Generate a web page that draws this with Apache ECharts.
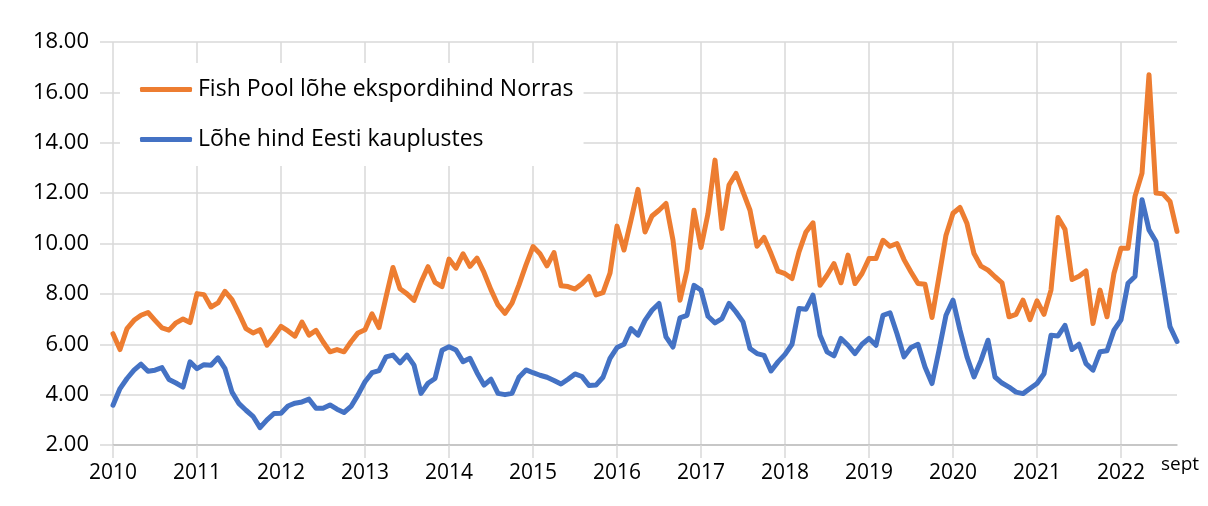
<!DOCTYPE html>
<html>
<head>
<meta charset="utf-8">
<script src="https://cdn.jsdelivr.net/npm/echarts@6/dist/echarts.min.js"></script>
<style>
  html, body { margin: 0; padding: 0; background: #fff; }
  #chart { width: 1208px; height: 506px; }
</style>
</head>
<body>
<div id="chart"></div>
<script>
// aastad x-teljel (iga aasta jaanuar), viimane punkt on 2022 sept
const years = ['2010', '2011', '2012', '2013', '2014', '2015', '2016', '2017', '2018', '2019', '2020', '2021', '2022']
const lastMonth = 9

// Fish Pool lõhe ekspordihind Norras (kuised väärtused)
const fishPool = [
  6.42, 5.79, 6.62, 6.95, 7.15, 7.26, 6.95, 6.65, 6.56, 6.85, 7.0, 6.86,
  8.01, 7.97, 7.48, 7.64, 8.1, 7.77, 7.22, 6.62, 6.45, 6.58, 5.96, 6.32,
  6.71, 6.53, 6.32, 6.88, 6.36, 6.55, 6.1, 5.7, 5.79, 5.7, 6.1, 6.45,
  6.58, 7.21, 6.66, 7.87, 9.05, 8.2, 8.0, 7.74, 8.46, 9.08, 8.46, 8.29,
  9.38, 9.02, 9.59, 9.09, 9.42, 8.85, 8.16, 7.56, 7.23, 7.63, 8.36, 9.15,
  9.88, 9.59, 9.11, 9.64, 8.32, 8.29, 8.19, 8.4, 8.69, 7.96, 8.05, 8.82,
  10.69, 9.74, 10.93, 12.15, 10.46, 11.09, 11.32, 11.59, 10.13, 7.75, 8.94, 11.32,
  9.84, 11.19, 13.31, 10.6, 12.32, 12.78, 12.05, 11.32, 9.89, 10.24, 9.6, 8.9,
  8.8, 8.61, 9.67, 10.46, 10.82, 8.34, 8.74, 9.2, 8.44, 9.54, 8.41, 8.81,
  9.4, 9.4, 10.13, 9.89, 10.0, 9.36, 8.87, 8.41, 8.38, 7.06, 8.68, 10.33,
  11.2, 11.43, 10.79, 9.6, 9.1, 8.94, 8.68, 8.44, 7.09, 7.19, 7.75, 6.98,
  7.72, 7.19, 8.15, 11.03, 10.56, 8.57, 8.7, 8.91, 6.82, 8.15, 7.09, 8.82,
  9.81, 9.81, 11.87, 12.79, 16.7, 12.0, 11.97, 11.67, 10.48
]

// Lõhe hind Eesti kauplustes (kuised väärtused)
const eesti = [
  3.58, 4.24, 4.64, 4.97, 5.21, 4.93, 4.97, 5.07, 4.6, 4.46, 4.3, 5.3,
  5.03, 5.19, 5.17, 5.46, 5.03, 4.1, 3.64, 3.38, 3.14, 2.69, 3.0, 3.25,
  3.26, 3.55, 3.66, 3.71, 3.82, 3.46, 3.46, 3.59, 3.42, 3.29, 3.53, 3.99,
  4.51, 4.87, 4.95, 5.5, 5.57, 5.26, 5.57, 5.17, 4.05, 4.45, 4.64, 5.76,
  5.9, 5.77, 5.31, 5.44, 4.87, 4.38, 4.61, 4.05, 4.0, 4.05, 4.69, 4.98,
  4.87, 4.77, 4.69, 4.56, 4.42, 4.61, 4.82, 4.72, 4.36, 4.38, 4.69, 5.44,
  5.87, 6.0, 6.62, 6.36, 6.95, 7.35, 7.62, 6.29, 5.89, 7.05, 7.15, 8.34,
  8.15, 7.11, 6.85, 7.02, 7.62, 7.28, 6.89, 5.83, 5.63, 5.56, 4.94, 5.3,
  5.6, 6.0, 7.42, 7.39, 7.95, 6.36, 5.7, 5.54, 6.23, 5.96, 5.63, 6.0,
  6.23, 5.96, 7.15, 7.25, 6.42, 5.5, 5.87, 6.0, 5.1, 4.44, 5.76, 7.15,
  7.75, 6.56, 5.5, 4.7, 5.36, 6.16, 4.7, 4.46, 4.3, 4.1, 4.04, 4.24,
  4.44, 4.83, 6.36, 6.33, 6.75, 5.79, 6.0, 5.23, 4.97, 5.7, 5.74, 6.56,
  6.97, 8.42, 8.69, 11.74, 10.54, 10.08, 8.42, 6.7, 6.11
]

// kuu kategooriad: 2010-01 ... 2022-09
const months = []
years.forEach((y, yi) => {
  const n = yi === years.length - 1 ? lastMonth : 12
  for (let m = 1; m <= n; m++) months.push(y + '-' + String(m).padStart(2, '0'))
})

const isYearStart = (index) => index % 12 === 0
const font = '"Open Sans", sans-serif'

const chart = echarts.init(document.getElementById('chart'), null, { renderer: 'canvas' })
chart.setOption({
  animation: false,
  backgroundColor: '#ffffff',
  grid: { left: 113, right: 31, top: 42, bottom: 61, containLabel: false },
  legend: {
    orient: 'vertical',
    left: 120,
    top: 63,
    padding: [12, 10, 12, 20],
    backgroundColor: '#ffffff',
    itemGap: 21,
    itemWidth: 52,
    itemHeight: 5,
    icon: 'roundRect',
    textStyle: { fontFamily: font, fontSize: 23, color: '#000', lineHeight: 29, padding: [0, 0, 0, 1] },
    data: ['Fish Pool lõhe ekspordihind Norras', 'Lõhe hind Eesti kauplustes']
  },
  xAxis: {
    type: 'category',
    data: months,
    boundaryGap: false,
    name: 'sept',
    nameLocation: 'end',
    nameGap: 0,
    nameTextStyle: { fontFamily: font, fontSize: 19, color: '#000', align: 'center', verticalAlign: 'top', padding: [10, 0, 0, 6] },
    axisLine: { lineStyle: { color: '#bfbfbf', width: 1.5 } },
    axisTick: { show: true, interval: isYearStart, length: 13, lineStyle: { color: '#d9d9d9', width: 1.5 } },
    axisLabel: {
      interval: isYearStart,
      margin: 18,
      fontFamily: font,
      fontSize: 21,
      color: '#000',
      formatter: (v) => v.slice(0, 4)
    },
    splitLine: { show: true, interval: isYearStart, lineStyle: { color: '#d9d9d9', width: 1.5 } }
  },
  yAxis: {
    type: 'value',
    min: 2,
    max: 18,
    interval: 2,
    axisLine: { show: false },
    axisTick: { show: true, length: 13, lineStyle: { color: '#d9d9d9', width: 1.5 } },
    axisLabel: {
      margin: 24,
      fontFamily: font,
      fontSize: 22,
      color: '#000',
      formatter: (v) => v.toFixed(2)
    },
    splitLine: { lineStyle: { color: '#d9d9d9', width: 1.5 } }
  },
  series: [
    {
      name: 'Fish Pool lõhe ekspordihind Norras',
      type: 'line',
      data: fishPool,
      showSymbol: false,
      symbol: 'none',
      color: '#ED7D31',
      lineStyle: { width: 5, color: '#ED7D31', join: 'round', cap: 'round' },
      z: 3
    },
    {
      name: 'Lõhe hind Eesti kauplustes',
      type: 'line',
      data: eesti,
      showSymbol: false,
      symbol: 'none',
      color: '#4472C4',
      lineStyle: { width: 5, color: '#4472C4', join: 'round', cap: 'round' },
      z: 2
    }
  ]
})
</script>
</body>
</html>
